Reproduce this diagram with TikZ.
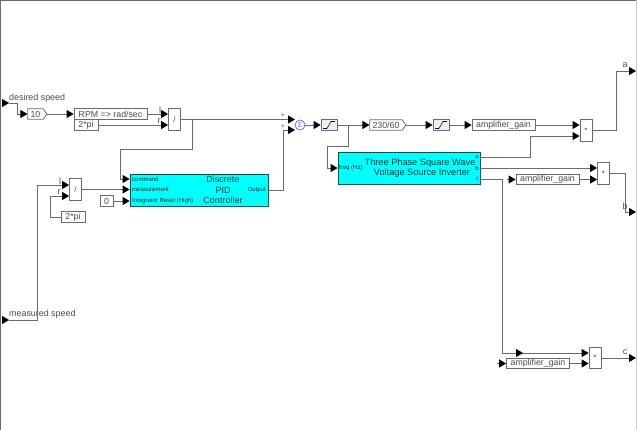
\documentclass[tikz,border=0pt]{standalone}
\usepackage{fontspec}
\setmainfont{Liberation Sans}
\usetikzlibrary{arrows.meta,shapes.symbols}
\definecolor{wiregray}{gray}{0.42}
\definecolor{textgray}{gray}{0.3}
\definecolor{subcyan}{rgb}{0,1,1}
\tikzset{
  wire/.style={draw=wiregray,line width=0.9pt,-{Triangle[black,length=7pt,width=8pt]}},
  txtbox/.style={draw=wiregray,fill=white,line width=0.8pt,inner sep=0pt,minimum height=10.5pt,text=textgray,font=\fontsize{8.8}{9}\selectfont},
  gainsig/.style={shape=signal,signal to=east,signal pointer angle=110,draw=wiregray,fill=white,line width=0.8pt,inner sep=0pt,minimum height=10.5pt,text=textgray,font=\fontsize{8.8}{9}\selectfont},
  opbox/.style={draw=wiregray,fill=white,line width=0.8pt,inner sep=0pt,minimum width=12pt,minimum height=21.5pt,text=textgray,font=\fontsize{8}{9}\selectfont},
  satbox/.style={draw=wiregray,fill=black!6,line width=0.8pt,inner sep=0pt,minimum width=16pt,minimum height=10.5pt},
  subsys/.style={draw=teal!70!black,fill=subcyan,line width=0.8pt,inner sep=0pt},
  lbl/.style={text=textgray,inner sep=0pt,font=\fontsize{8.9}{9}\selectfont},
  portlbl/.style={text=teal!40!black,inner sep=0pt,font=\fontsize{6}{6}\selectfont},
  titlelbl/.style={text=teal!50!black,inner sep=0pt,font=\fontsize{9}{10}\selectfont},
}
\begin{document}
\begin{tikzpicture}[x=1pt,y=-1pt]
\useasboundingbox (0,0) rectangle (637,430);
\fill[white] (0,0) rectangle (637,430);
\draw[wiregray,line width=1.6pt] (0.5,430) -- (0.5,0.5) -- (637,0.5);
\draw[black!20,line width=0.8pt] (636.5,0) -- (636.5,430);
% Inports
\coordinate (desiredin) at (2,103);
\coordinate (desiredpt) at (9,103);
\coordinate (measuredin) at (2,320);
\coordinate (measuredpt) at (9,320);
\draw[wire] (desiredin) -- (desiredpt);
\draw[wire] (measuredin) -- (measuredpt);
\node (desiredlbl) at (9,98) [lbl,anchor=west] {desired speed};
\node (measuredlbl) at (9,314.5) [lbl,anchor=west] {measured speed};
% Speed reference
\node (gainten) at (35.5,114) [gainsig,minimum width=19pt] {10};
\node (rpm) at (110.5,114) [txtbox,minimum width=73pt] {RPM => rad/sec};
\node (twopiA) at (86,125) [txtbox,minimum width=24pt] {2*pi};
\node (divA) at (174.5,119.5) [opbox] {/};
\node (lA) at (160,110.5) [lbl] {l};
\node (rA) at (159,121) [lbl] {r};
% Speed feedback
\node (divB) at (75.5,189.5) [opbox] {/};
\node (lB) at (60,181) [lbl] {l};
\node (rB) at (59,192.5) [lbl] {r};
\node (twopiB) at (73,217) [txtbox,minimum width=24pt] {2*pi};
\node (zero) at (106.5,201) [txtbox,minimum width=13pt] {0};
% PID
\node (pid) at (199,190) [subsys,minimum width=138pt,minimum height=32pt] {};
\node (pidcmd) at (132,179) [portlbl,anchor=west] {command};
\node (pidmeas) at (132,190) [portlbl,anchor=west] {measurement};
\node (pidrst) at (132,201) [portlbl,anchor=west] {Integrator Reset (High)};
\node (pidout) at (266,190) [portlbl,anchor=east] {Output};
\node (pidA) at (223,179.5) [titlelbl] {Discrete};
\node (pidB) at (223,190) [titlelbl] {PID};
\node (pidC) at (223,200.5) [titlelbl] {Controller};
% Sum and limiters
\node (sumblk) at (300,125) [circle,draw=blue!70,fill=white,line width=0.6pt,inner sep=0pt,minimum size=10pt,text=blue!70,font=\fontsize{6.5}{7}\selectfont] {Σ};
\node (plusA) at (283,115.5) [lbl,font=\fontsize{6.5}{7}\selectfont] {+};
\node (plusB) at (283,127) [lbl,font=\fontsize{6.5}{7}\selectfont] {+};
\node (satA) at (329,125) [satbox] {};
\node (gainfreq) at (386,125) [gainsig,minimum width=36pt] {230/60};
\node (satB) at (441,125) [satbox] {};
\draw[blue!50!black,line width=0.6pt] (satA.center) ++(-6,3.5) -- ++(4,0) -- ++(4,-7) -- ++(4,0);
\draw[blue!50!black,line width=0.6pt] (satB.center) ++(-6,3.5) -- ++(4,0) -- ++(4,-7) -- ++(4,0);
% Inverter
\node (inv) at (409,168) [subsys,minimum width=142pt,minimum height=32pt] {};
\node (invfreq) at (339,168) [portlbl,anchor=west] {freq (Hz)};
\node (inva) at (479,157) [portlbl,anchor=east] {a};
\node (invb) at (479,168) [portlbl,anchor=east] {b};
\node (invc) at (479,179) [portlbl,anchor=east] {c};
\node (invA) at (420,163) [titlelbl,font=\fontsize{9.2}{10}\selectfont] {Three Phase Square Wave};
\node (invB) at (422,173.5) [titlelbl,font=\fontsize{9.2}{10}\selectfont] {Voltage Source Inverter};
% Output stages
\node (ampA) at (503.5,125) [txtbox,minimum width=63pt] {amplifier\_gain};
\node (ampB) at (547.5,179.5) [txtbox,minimum width=63pt] {amplifier\_gain};
\node (ampC) at (538,363.5) [txtbox,minimum width=63pt] {amplifier\_gain};
\node (prodA) at (586,130.5) [opbox] {*};
\node (prodB) at (603.5,173.5) [opbox] {*};
\node (prodC) at (595,358) [opbox] {*};
\coordinate (outa) at (636,71);
\coordinate (outb) at (636,212);
\coordinate (outc) at (636,358);
\coordinate (ampBin) at (507,179.5);
\coordinate (ampCin) at (497,363.5);
\node (outalbl) at (625,65) [lbl] {a};
\node (outblbl) at (625,206) [lbl] {b};
\node (outclbl) at (625,352) [lbl] {c};
% Reference side wires
\draw[wire] (desiredpt) -- (17,103) |- (gainten.west);
\draw[wire] (gainten.east) -- (rpm.west);
\draw[wire] (rpm.east) -- (divA.west |- rpm.east);
\draw[wire] (twopiA.east) -- (divA.west |- twopiA.east);
\draw[wire] (divA.east) -- (295,119.5);
\draw[wire] (192,119.5) -- (192,149.5) -- (120,149.5) |- (pid.west |- pidcmd);
\draw[wire] (measuredpt) -- (37,320) |- (divB.west |- 0,185);
\draw[wire] (twopiB.west) -- (50,217) |- (divB.west |- 0,196);
\draw[wire] (divB.east) -- (pid.west |- divB.east);
\draw[wire] (zero.east) -- (pid.west |- zero.east);
\draw[wire] (pid.east) -- (283,190) |- (295,130);
% Forward path wires
\draw[wire] (sumblk.east) -- (satA.west);
\draw[wire] (satA.east) -- (gainfreq.west);
\draw[wire] (gainfreq.east) -- (satB.west);
\draw[wire] (satB.east) -- (ampA.west);
\draw[wire] (ampA.east) -- (prodA.west |- ampA.east);
\draw[wire] (348,125) -- (348,146.5) -- (327,146.5) |- (inv.west);
\draw[wire] (inv.east |- inva) -- (530,157) |- (prodA.west |- 0,136);
\draw[wire] (inv.east) -- (prodB.west |- inv.east);
\draw[wire] (ampBin) -- (ampB.west);
\draw[wire] (ampB.east) -- (prodB.west |- ampB.east);
\draw[wire] (prodA.east) -- (616,130.5) |- (outa);
\draw[wire] (prodB.east) -- (625,173.5) |- (outb);
\draw[wire] (prodC.east) -- (outc);
\draw[wire] (inv.east |- invc) -- (502,179) |- (prodC.west |- 0,353);
\draw[wire] (510,353) -- (523,353);
\draw[wire] (ampCin) -- (ampC.west);
\draw[wire] (ampC.east) -- (prodC.west |- ampC.east);
\end{tikzpicture}
\end{document}
